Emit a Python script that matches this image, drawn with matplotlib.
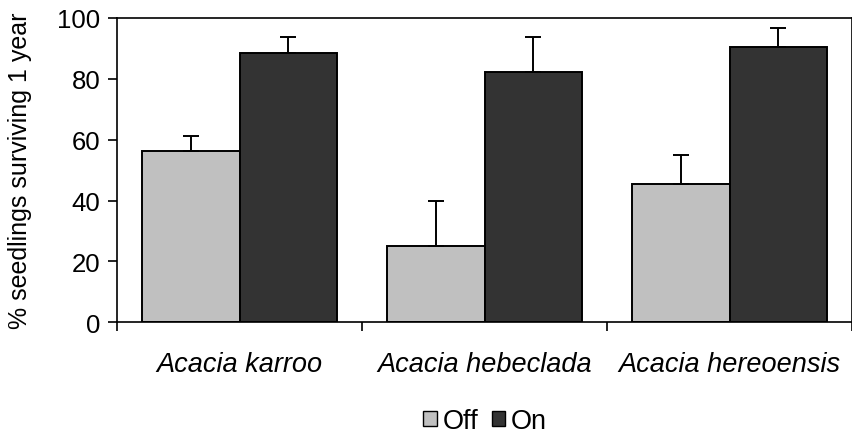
import matplotlib
matplotlib.use("Agg")
import matplotlib.pyplot as plt
from matplotlib.patches import Patch
import numpy as np

plt.rcParams['font.family'] = ['Liberation Sans', 'DejaVu Sans']

species = ["Acacia karroo", "Acacia hebeclada", "Acacia hereoensis"]
off_vals = [56.4, 25.1, 45.5]
on_vals = [88.6, 82.4, 90.6]
off_err = [4.8, 14.9, 9.6]
on_err = [5.2, 11.4, 6.0]
yticks = [0, 20, 40, 60, 80, 100]

fig = plt.figure(figsize=(8.53, 4.39), dpi=100)
ax = fig.add_axes([0.1375, 0.2636, 0.8613, 0.6932])

x = np.arange(len(species))
w = 0.398
ekw = dict(ecolor='black', elinewidth=1.4, capsize=6, capthick=1.4)
ax.bar(x - w / 2, off_vals, w, color='#C0C0C0', edgecolor='black', linewidth=1.4,
       yerr=[np.zeros(3), off_err], error_kw=ekw, label='Off', zorder=2)
ax.bar(x + w / 2, on_vals, w, color='#333333', edgecolor='black', linewidth=1.4,
       yerr=[np.zeros(3), on_err], error_kw=ekw, label='On', zorder=2)

ax.set_xlim(-0.5, len(species) - 0.5)
ax.set_ylim(0, 100)
ax.set_yticks(yticks)
ax.tick_params(axis='y', direction='out', length=6.5, width=1.2, labelsize=18.5, pad=5.5)

# category boundaries carry the tick marks, names sit between them
ax.set_xticks(np.arange(-0.5, len(species), 1.0))
ax.set_xticklabels([])
ax.tick_params(axis='x', which='major', direction='out', length=6.5, width=1.2)
ax.set_xticks(x, minor=True)
ax.set_xticklabels(species, minor=True, fontstyle='italic', fontsize=19.5)
ax.tick_params(axis='x', which='minor', length=0, pad=20.5)

for s in ax.spines.values():
    s.set_linewidth(1.2)
    s.set_color('black')

ax.set_ylabel('% seedlings surviving 1 year', fontsize=18, labelpad=18)

handles = [Patch(facecolor='#C0C0C0', edgecolor='black', label='Off'),
           Patch(facecolor='#333333', edgecolor='black', label='On')]
fig.legend(handles=handles, loc='center', bbox_to_anchor=(0.5686, 0.039), ncol=2,
           frameon=False, fontsize=19.5, handlelength=0.5, handleheight=0.5,
           handletextpad=0.2, columnspacing=0.5, borderpad=0)

fig.savefig('out.png', dpi=100)
